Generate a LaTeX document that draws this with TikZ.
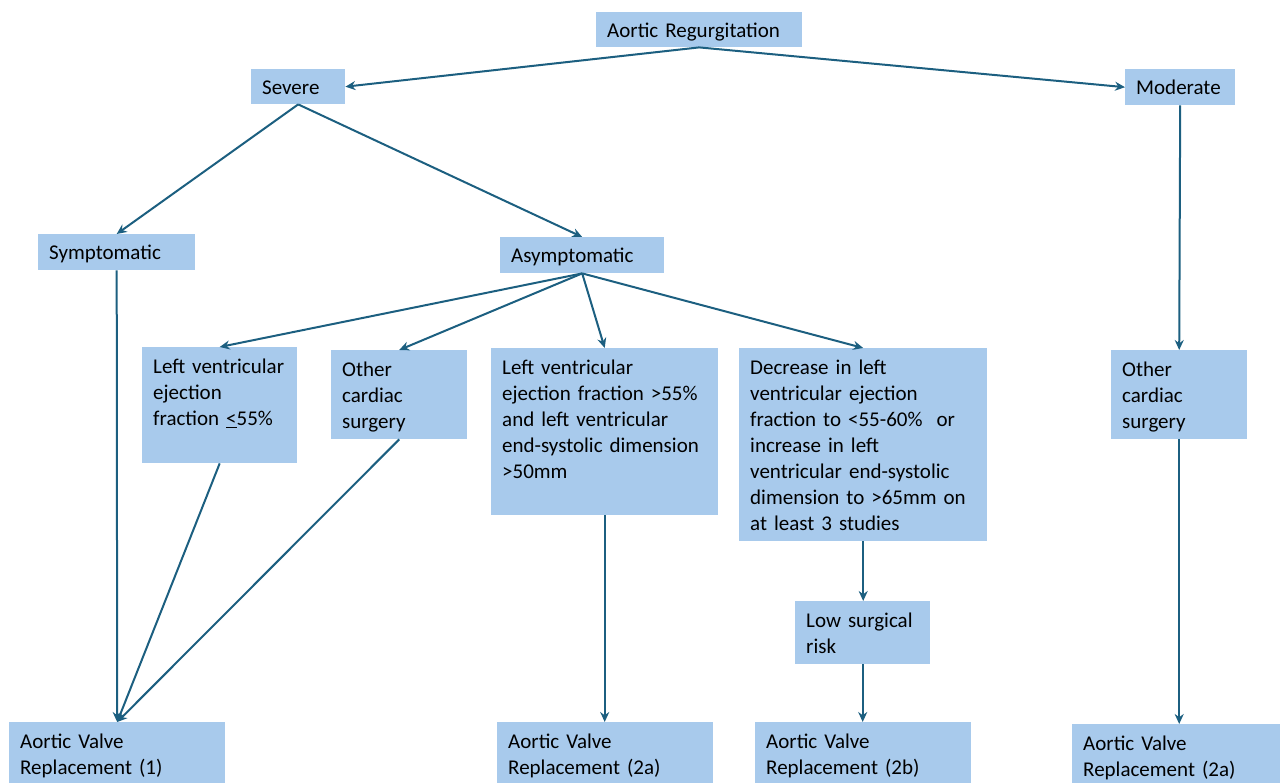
\documentclass[tikz,border=0pt]{standalone}
\usepackage{fontspec}
\setmainfont{Carlito}
\usetikzlibrary{arrows.meta}
\definecolor{boxfill}{RGB}{168,202,236}
\definecolor{arr}{RGB}{28,95,128}
\newcommand\mybox[2]{\parbox[c][#1][t]{\linewidth}{\raggedright\vspace*{12pt}#2}}
\tikzset{
  box/.style={fill=boxfill, draw=none, inner xsep=11pt, inner ysep=0pt, align=left,
    font=\fontsize{21}{26}\selectfont, anchor=north west},
  one/.style={minimum height=#1, text height=17pt, text depth=2pt},
  conn/.style={draw=arr, line width=2pt, -{Stealth[length=10pt,width=9pt]}}
}
\begin{document}
\begin{tikzpicture}[x=1pt,y=-1pt]
\useasboundingbox (0,0) rectangle (1280,783);
% single-line boxes
\node[box, one=35, text width=184] (ar) at (596,12) {Aortic Regurgitation};
\node[box, one=35, text width=72] (sev) at (251,69) {Severe};
\node[box, one=36, text width=88] (mod) at (1125,69) {Moderate};
\node[box, one=36, text width=135] (sym) at (38,234) {Symptomatic};
\node[box, one=36, text width=142] (asym) at (500,237) {Asymptomatic};
% multi-line boxes
\node[box, text width=133] (lv1) at (142,347) {\mybox{116pt}{Left ventricular\\ejection\\fraction \underline{<}55\%}};
\node[box, text width=114] (ocm) at (331,350) {\mybox{89pt}{Other\\cardiac\\surgery}};
\node[box, text width=205] (lv2) at (491,348) {\mybox{167pt}{Left ventricular\\ejection fraction >55\%\\and left ventricular\\end-systolic dimension\\>50mm}};
\node[box, text width=226] (dec) at (739,348) {\mybox{193pt}{Decrease in left\\ventricular ejection\\fraction to <55-60\%~ or\\increase in left\\ventricular end-systolic\\dimension to >65mm on\\at least 3 studies}};
\node[box, text width=113] (low) at (795,601) {\mybox{63pt}{Low surgical\\risk}};
\node[box, text width=114] (ocr) at (1111,350) {\mybox{89pt}{Other\\cardiac\\surgery}};
\node[box, text width=194] (avr1) at (9,722) {\mybox{61pt}{Aortic Valve\\Replacement (1)}};
\node[box, text width=194] (avr2a) at (497,722) {\mybox{61pt}{Aortic Valve\\Replacement (2a)}};
\node[box, text width=194] (avr2b) at (755,722) {\mybox{61pt}{Aortic Valve\\Replacement (2b)}};
\node[box, text width=186] (avr2r) at (1072,724) {\mybox{59pt}{Aortic Valve\\Replacement (2a)}};
% connectors
\draw[conn] (ar.south) -- (sev.east);
\draw[conn] (ar.south) -- (mod.west);
\draw[conn] (sev.south) -- (sym.north);
\draw[conn] (sev.south) -- (asym.north);
\draw[conn] (mod.south) -- (ocr.north);
\draw[conn] (sym.south) -- (avr1.north);
\draw[conn] (asym.south) -- (lv1.north);
\draw[conn] (asym.south) -- (ocm.north);
\draw[conn] (asym.south) -- (lv2.north);
\draw[conn] (asym.south) -- (dec.north);
\draw[conn] (lv1.south) -- (avr1.north);
\draw[conn] (ocm.south) -- (avr1.north);
\draw[conn] (lv2.south) -- (lv2.south |- avr2a.north);
\draw[conn] (dec.south) -- (dec.south |- low.north);
\draw[conn] (low.south) -- (low.south |- avr2b.north);
\draw[conn] (ocr.south) -- (ocr.south |- avr2r.north);
\end{tikzpicture}
\end{document}
